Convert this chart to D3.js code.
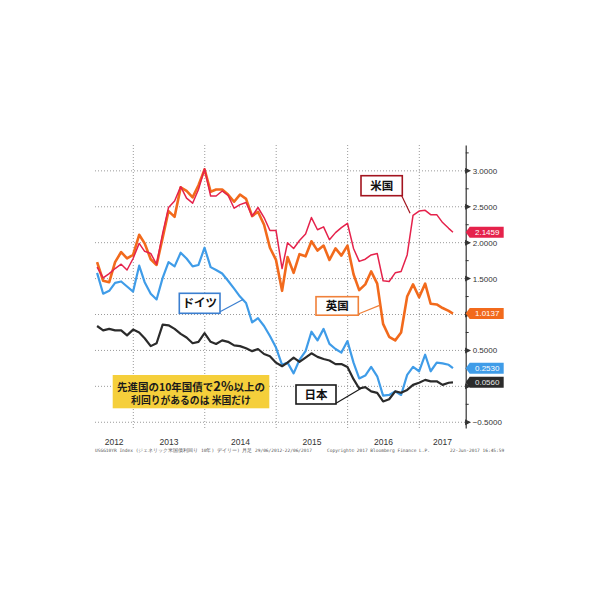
<!DOCTYPE html>
<html>
<head>
<meta charset="utf-8">
<script src="https://cdnjs.cloudflare.com/ajax/libs/d3/7.8.5/d3.min.js"></script>
<style>
  body { margin: 0; background: #fff; }
  .grid line { stroke: #9a9a9a; stroke-dasharray: 1,2; stroke-width: 1; }
  .yaxis text { font-family: "Liberation Sans", Arial, sans-serif; font-size: 8px; fill: #333; }
  .yaxis path { stroke: #333; stroke-width: 1.2; }
</style>
</head>
<body>
<div id="chart"></div>
<script>
// 10-year government bond yields, month-end from Jun 2012, last point 22 Jun 2017
const usYield = [1.66, 1.51, 1.57, 1.64, 1.70, 1.62, 1.78, 1.99, 1.88, 1.85, 1.70, 2.13,
  2.49, 2.58, 2.78, 2.62, 2.55, 2.74, 3.03, 2.65, 2.65, 2.72, 2.66, 2.48,
  2.53, 2.56, 2.37, 2.49, 2.35, 2.17, 2.17, 1.64, 2.00, 1.92, 2.03, 2.12,
  2.35, 2.18, 2.22, 2.04, 2.14, 2.21, 2.27, 1.92, 1.74, 1.77, 1.83, 1.85,
  1.47, 1.46, 1.58, 1.60, 1.83, 2.38, 2.44, 2.45, 2.39, 2.39, 2.28, 2.20, 2.1459];
const ukYield = [1.73, 1.47, 1.45, 1.73, 1.87, 1.78, 1.83, 2.11, 1.99, 1.77, 1.69, 2.07,
  2.44, 2.36, 2.77, 2.72, 2.63, 2.80, 3.02, 2.71, 2.74, 2.74, 2.67, 2.57,
  2.67, 2.61, 2.37, 2.43, 2.25, 1.93, 1.76, 1.33, 1.80, 1.58, 1.84, 1.81,
  2.02, 1.89, 1.96, 1.76, 1.92, 1.82, 1.96, 1.56, 1.34, 1.42, 1.60, 1.43,
  0.87, 0.69, 0.64, 0.75, 1.25, 1.42, 1.24, 1.43, 1.15, 1.14, 1.09, 1.05, 1.0137];
const deYield = [1.58, 1.29, 1.33, 1.44, 1.46, 1.39, 1.32, 1.68, 1.45, 1.29, 1.21, 1.51,
  1.73, 1.67, 1.86, 1.78, 1.67, 1.69, 1.93, 1.66, 1.62, 1.57, 1.47, 1.36,
  1.25, 1.16, 0.89, 0.95, 0.84, 0.70, 0.54, 0.30, 0.33, 0.18, 0.37, 0.49,
  0.76, 0.64, 0.80, 0.59, 0.52, 0.47, 0.63, 0.33, 0.11, 0.15, 0.27, 0.14,
  -0.13, -0.12, -0.07, -0.12, 0.16, 0.27, 0.21, 0.44, 0.21, 0.33, 0.32, 0.30, 0.2530];
const jpYield = [0.84, 0.78, 0.80, 0.78, 0.78, 0.71, 0.79, 0.75, 0.67, 0.56, 0.60, 0.86,
  0.85, 0.80, 0.73, 0.68, 0.60, 0.62, 0.74, 0.62, 0.59, 0.64, 0.62, 0.57,
  0.56, 0.53, 0.49, 0.52, 0.45, 0.42, 0.33, 0.28, 0.33, 0.40, 0.34, 0.40,
  0.46, 0.41, 0.38, 0.36, 0.31, 0.31, 0.27, 0.10, -0.03, -0.01, -0.07, -0.09,
  -0.21, -0.18, -0.07, -0.09, -0.05, 0.02, 0.05, 0.09, 0.07, 0.07, 0.02, 0.05, 0.0560];

const yTicks = [-0.5, 0, 0.5, 1, 1.5, 2, 2.5, 3];
const yearLabels = [2012, 2013, 2014, 2015, 2016, 2017];

// month-end dates Jun 2012 .. May 2017, then the last quote date
const dates = d3.timeMonth.range(new Date(2012, 6, 1), new Date(2017, 6, 1))
  .map(d => d3.timeDay.offset(d, -1));
dates.push(new Date(2017, 5, 22));

const series = [
  { name: "英国", values: ukYield, color: "#f26a1c", width: 2.6 },
  { name: "米国", values: usYield, color: "#e5224b", width: 1.5 },
  { name: "ドイツ", values: deYield, color: "#3f9ce8", width: 2.2 },
  { name: "日本", values: jpYield, color: "#2b2b2b", width: 2.2 }
];

const width = 600, height = 600;
const plotLeft = 95, plotRight = 465.7, plotTop = 145, plotBottom = 428;

const svg = d3.select("#chart").append("svg")
  .attr("width", width)
  .attr("height", height);

const x = d3.scaleTime()
  .domain([new Date(2013, 0, 1), new Date(2017, 0, 1)])
  .range([133.3, 419.3]);

const y = d3.scaleLinear()
  .domain([-0.58, 3.36])
  .range([plotBottom, plotTop]);

// Grid
const grid = svg.append("g").attr("class", "grid");
grid.selectAll(".hg")
  .data(yTicks)
  .enter().append("line")
  .attr("x1", plotLeft).attr("x2", plotRight)
  .attr("y1", d => y(d)).attr("y2", d => y(d));

const yearStarts = yearLabels.slice(1).map(yr => new Date(yr, 0, 1));
grid.selectAll(".vg")
  .data(yearStarts)
  .enter().append("line")
  .attr("x1", d => x(d)).attr("x2", d => x(d))
  .attr("y1", plotTop).attr("y2", plotBottom + 2);

// Year labels centred in the visible part of each year
svg.append("g").selectAll("text")
  .data(yearLabels)
  .enter().append("text")
  .attr("x", yr => {
    const a = Math.max(plotLeft, x(new Date(yr, 0, 1)));
    const b = Math.min(plotRight, x(new Date(yr + 1, 0, 1)));
    return (a + b) / 2;
  })
  .attr("y", 444.5)
  .attr("text-anchor", "middle")
  .style("font-family", "'Liberation Sans', Arial, sans-serif")
  .style("font-size", "8.5px")
  .style("fill", "#333")
  .text(d => d);

// Lines
const line = d3.line()
  .x((d, i) => x(dates[i]))
  .y(d => y(d));

svg.append("g").selectAll("path")
  .data(series)
  .enter().append("path")
  .attr("fill", "none")
  .attr("stroke", d => d.color)
  .attr("stroke-width", d => d.width)
  .attr("stroke-linejoin", "round")
  .attr("d", d => line(d.values));

// Right axis: labels that sit under a last-value tag are hidden, as in the original
const lastVals = series.map(s => s.values[s.values.length - 1]);
const hidden = v => lastVals.some(l => Math.abs(y(l) - y(v)) < 9);

const yAxis = d3.axisRight(y)
  .tickValues(yTicks)
  .tickSize(0)
  .tickPadding(7)
  .tickFormat(d => hidden(d) ? "" : d3.format(".4f")(d));

const axisG = svg.append("g")
  .attr("class", "yaxis")
  .attr("transform", `translate(${plotRight},0)`)
  .call(yAxis);

// minor ticks every 0.25
axisG.selectAll(".minor")
  .data(d3.range(-0.25, 3.3, 0.5))
  .enter().append("line")
  .attr("x1", 0).attr("x2", 3)
  .attr("y1", d => y(d)).attr("y2", d => y(d))
  .attr("stroke", "#333");

// major tick markers
axisG.selectAll(".major")
  .data(yTicks)
  .enter().append("path")
  .attr("d", d => `M0,${y(d) - 2}L4,${y(d)}L0,${y(d) + 2}Z`)
  .attr("fill", "#333");

// Last-value tags
const fmt = d3.format(".4f");
const tags = svg.append("g").selectAll("g")
  .data(series)
  .enter().append("g")
  .attr("transform", d => `translate(${plotRight},${y(d.values[d.values.length - 1])})`);

tags.append("path")
  .attr("d", "M0,0L4,-5.5L38,-5.5L38,5.5L4,5.5Z")
  .attr("fill", d => d.color);

tags.append("text")
  .attr("x", 21.5)
  .attr("dy", "0.36em")
  .attr("text-anchor", "middle")
  .style("font-family", "'Liberation Sans', Arial, sans-serif")
  .style("font-size", "8px")
  .style("fill", d => d.name === "日本" ? "#e8e8e8" : "#fff")
  .text(d => fmt(d.values[d.values.length - 1]));

// Label boxes with leader lines; anchor given as [date, value] on the series
const notes = [
  { text: "米国", box: [361, 175.7, 41.3, 20], from: [401.7, 195.7], anchor: [new Date(2016, 10, 15), 2.41], stroke: "#a3141f" },
  { text: "英国", box: [316, 296.7, 42.3, 18.5], from: [358.3, 314], anchor: [new Date(2016, 5, 15), 1.13], stroke: "#f0813a" },
  { text: "ドイツ", box: [179.3, 293.3, 40.7, 20], from: [220, 311.7], anchor: [new Date(2014, 6, 15), 1.21], stroke: "#3b7fd0" },
  { text: "日本", box: [296, 385, 40, 19], from: [336, 403.3], anchor: [new Date(2016, 2, 15), -0.02], stroke: "#1a1a1a" }
];

const noteG = svg.append("g").selectAll("g")
  .data(notes)
  .enter().append("g");

noteG.append("line")
  .attr("x1", d => d.from[0]).attr("y1", d => d.from[1])
  .attr("x2", d => x(d.anchor[0])).attr("y2", d => y(d.anchor[1]))
  .attr("stroke", d => d.stroke)
  .attr("stroke-width", 1.2);

noteG.append("rect")
  .attr("x", d => d.box[0]).attr("y", d => d.box[1])
  .attr("width", d => d.box[2]).attr("height", d => d.box[3])
  .attr("fill", "#fff")
  .attr("stroke", d => d.stroke)
  .attr("stroke-width", 1.6);

noteG.append("text")
  .attr("x", d => d.box[0] + d.box[2] / 2)
  .attr("y", d => d.box[1] + d.box[3] / 2)
  .attr("dy", "0.36em")
  .attr("text-anchor", "middle")
  .style("font-family", "'Noto Sans CJK JP', sans-serif")
  .style("font-weight", "bold")
  .style("font-size", "11.5px")
  .style("fill", "#111")
  .text(d => d.text);

// Yellow message box
svg.append("rect")
  .attr("x", 112.7).attr("y", 375)
  .attr("width", 156.6).attr("height", 33.3)
  .attr("fill", "#f5cf3b");

const msg1 = svg.append("text")
  .attr("x", 191).attr("y", 390.5)
  .attr("text-anchor", "middle")
  .style("font-family", "'Noto Sans CJK JP', sans-serif")
  .style("font-weight", "bold")
  .style("font-size", "10.5px")
  .style("fill", "#1a1a1a");
msg1.append("tspan").text("先進国の10年国債で");
msg1.append("tspan").style("font-size", "13px").text("2%");
msg1.append("tspan").text("以上の");

svg.append("text")
  .attr("x", 191).attr("y", 404)
  .attr("text-anchor", "middle")
  .style("font-family", "'Noto Sans CJK JP', sans-serif")
  .style("font-weight", "bold")
  .style("font-size", "9.8px")
  .style("fill", "#1a1a1a")
  .text("利回りがあるのは 米国だけ");

// Footer
const foot = svg.append("g")
  .style("font-family", "'DejaVu Sans Mono', monospace")
  .style("font-size", "4.5px")
  .style("fill", "#555");
foot.append("text").attr("x", 95).attr("y", 451.5)
  .text("USGG10YR Index (ジェネリック米国債利回り 10年) デイリー)  月足 29/06/2012-22/06/2017");
foot.append("text").attr("x", 327).attr("y", 451.5)
  .text("Copyright© 2017 Bloomberg Finance L.P.");
foot.append("text").attr("x", 450).attr("y", 451.5)
  .text("22-Jun-2017 16:45:59");
</script>
</body>
</html>
